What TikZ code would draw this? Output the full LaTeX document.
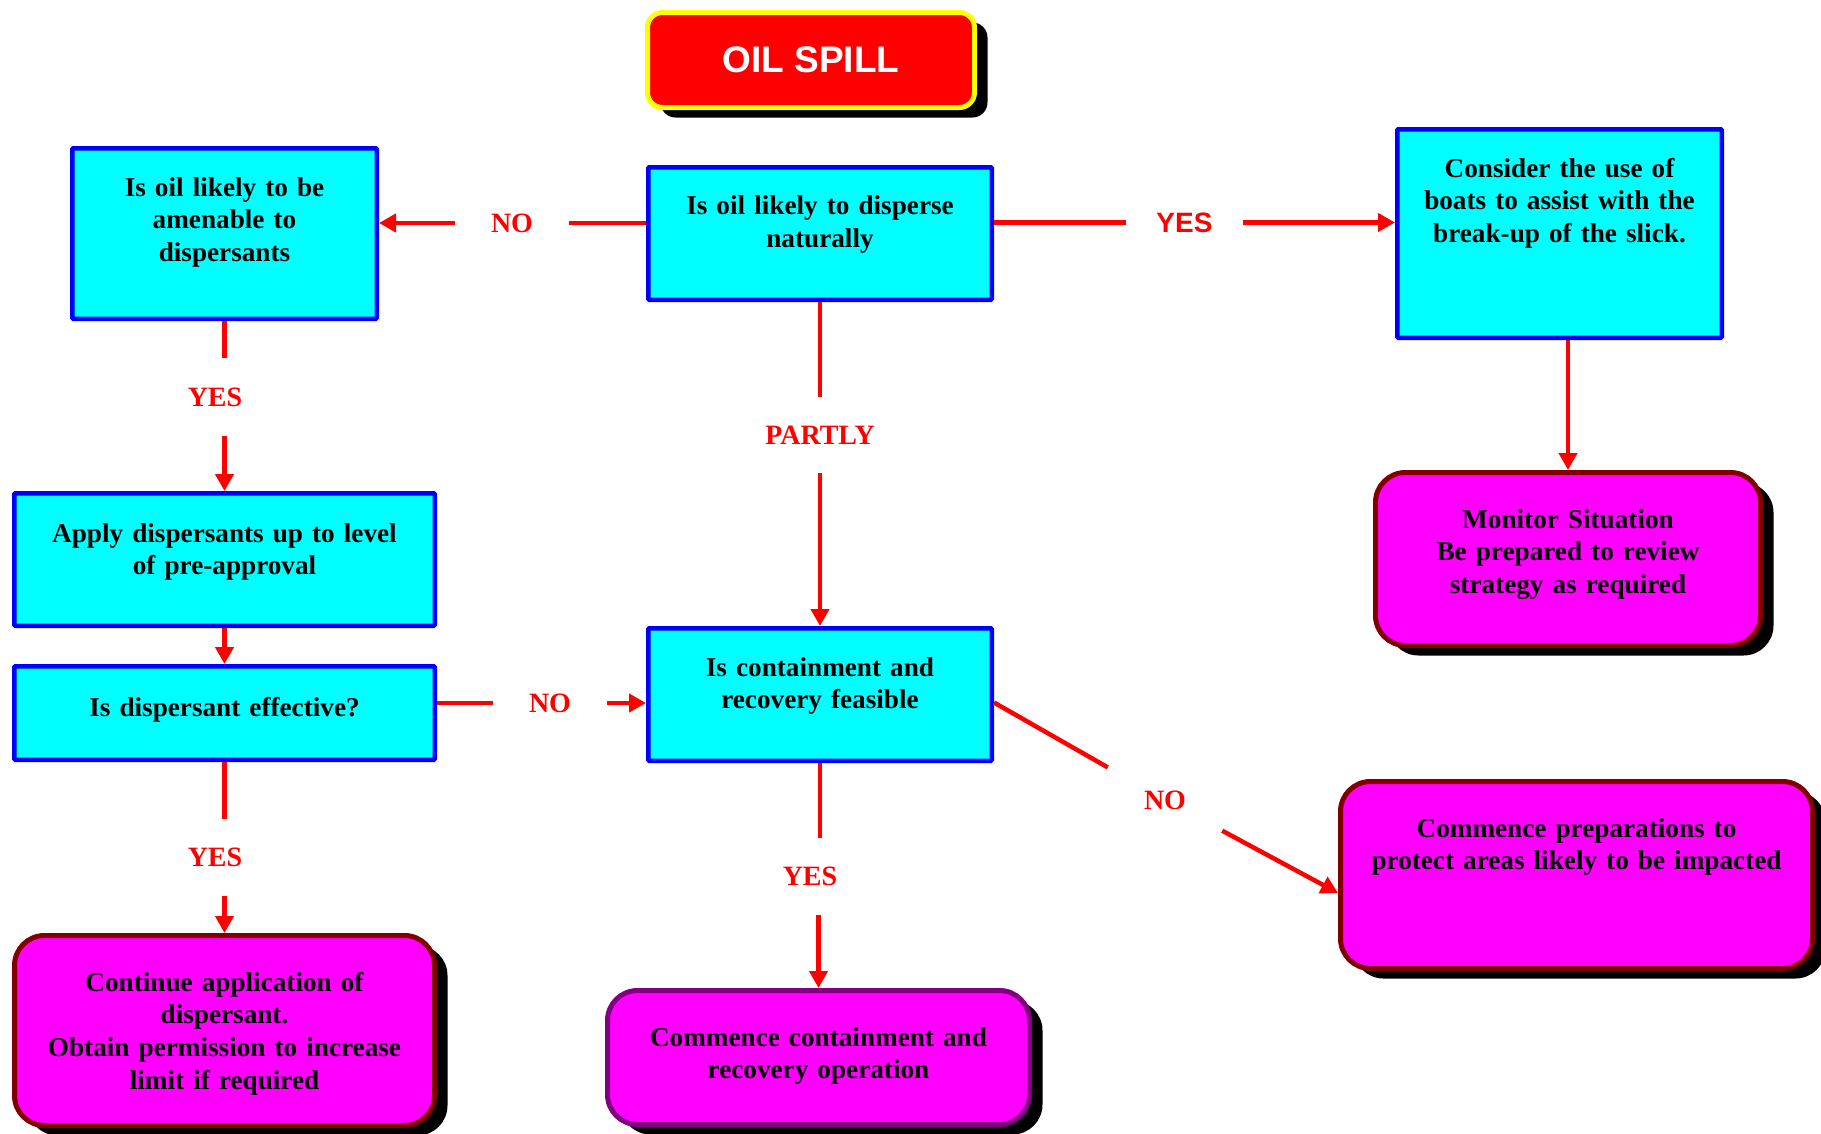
\documentclass[tikz,border=0pt]{standalone}
\usepackage{fontspec}
\setmainfont{Liberation Serif}
\newfontfamily\sansbold{Liberation Sans}
\usetikzlibrary{arrows.meta,shadows}
\definecolor{boxcyan}{RGB}{0,255,255}
\definecolor{boxmagenta}{RGB}{255,0,255}
\definecolor{boxblue}{RGB}{0,0,255}
\definecolor{boxred}{RGB}{255,0,0}
\definecolor{boxyellow}{RGB}{255,255,0}
\definecolor{maroonline}{RGB}{128,0,0}
\definecolor{purpleline}{RGB}{128,0,128}
\newcommand\flowfont{\bfseries\fontsize{27.2}{32.7}\selectfont}
\newcommand\answerfont{\bfseries\fontsize{28}{32.5}\selectfont}
\newcommand\flowsans{\sansbold\bfseries\fontsize{28}{32}\selectfont}

\begin{document}
\begin{tikzpicture}[x=1pt, y=-1pt,
    blackshadow/.style={drop shadow={shadow xshift=13pt, shadow yshift=-10pt, fill=black, opacity=1}},
    spillbox/.style={draw=boxyellow, fill=boxred, line width=5pt, rounded corners=15pt, blackshadow,
      minimum width=327pt, minimum height=95pt, text=white,
      font=\sansbold\bfseries\fontsize{37}{40}\selectfont},
    question/.style={draw=boxblue, fill=boxcyan, line width=4.5pt, rounded corners=1pt,
      align=center, inner sep=2pt, text height=20pt, font=\flowfont},
    action/.style={draw=maroonline, fill=boxmagenta, line width=5pt, rounded corners=30pt, blackshadow,
      align=center, inner sep=2pt, text height=20pt, font=\flowfont},
    answer/.style={text=boxred, font=\answerfont, inner xsep=36pt, inner ysep=29pt},
    answersans/.style={answer, font=\flowsans, inner xsep=30pt},
    link/.style={boxred, line width=4.5pt},
    arrowlink/.style={link, -{Triangle[length=17pt, width=18pt]}}]

  \useasboundingbox (0,0) rectangle (1821,1133);

  % title
  \draw (811,60) node (spill) [spillbox] {OIL SPILL};

  % questions
  \draw (224.5,233.5) node (tl) [question, minimum width=304.5pt, minimum height=170.5pt,
    text width=280pt, text depth=95pt] {Is oil likely to be\\ amenable to\\ dispersants};
  \draw (820,233.5) node (ctop) [question, minimum width=343.5pt, minimum height=132.5pt,
    text width=320pt, text depth=58pt] {Is oil likely to disperse\\ naturally};
  \draw (1559.5,233.5) node (tr) [question, minimum width=324.5pt, minimum height=208.5pt,
    text width=300pt, text depth=133pt] {Consider the use of\\ boats to assist with the\\ break-up of the slick.};
  \draw (224.5,559.5) node (apply) [question, minimum width=420.5pt, minimum height=132.5pt,
    text width=396pt, text depth=55pt] {Apply dispersants up to level\\ of pre-approval};
  \draw (224.5,713) node (eff) [question, minimum width=420.5pt, minimum height=93.5pt,
    text width=396pt, text depth=14pt] {Is dispersant effective?};
  \draw (820,694.5) node (cont) [question, minimum width=343.5pt, minimum height=132.5pt,
    text width=320pt, text depth=57pt] {Is containment and\\ recovery feasible};

  % actions
  \draw (1568,559) node (mon) [action, minimum width=385pt, minimum height=173pt,
    text width=360pt, text depth=82pt] {Monitor Situation\\ Be prepared to review\\ strategy as required};
  \draw (224.5,1030.5) node (cnt) [action, minimum width=420pt, minimum height=190pt,
    text width=396pt, text depth=99pt] {Continue application of\\ dispersant.\\ Obtain permission to increase\\ limit if required};
  \draw (818.5,1057.5) node (ccr) [action, draw=purpleline, minimum width=422pt, minimum height=134pt,
    text width=398pt, text depth=43pt] {Commence containment and\\ recovery operation};
  \draw (1576.5,875) node (prep) [action, minimum width=472pt, minimum height=187pt,
    text width=448pt, text depth=96pt] {Commence preparations to\\ protect areas likely to be impacted};

  % answers
  \draw (512,223) node (noL) [answer] {NO};
  \draw (1184.5,222.5) node (yesR) [answersans] {YES};
  \draw (215,397) node (yesL) [answer] {YES};
  \draw (820,435) node (partly) [answer] {PARTLY};
  \draw (550,703) node (noM) [answer] {NO};
  \draw (215,857.5) node (yesLB) [answer] {YES};
  \draw (810,876.5) node (yesCB) [answer] {YES};
  \draw (1165,800) node (noD) [answer] {NO};

  % connectors
  \draw[link] (ctop.west |- noL) -- (noL);
  \draw[arrowlink] (noL) -- (tl.east |- noL);
  \draw[link] (ctop.east |- yesR) -- (yesR);
  \draw[arrowlink] (yesR) -- (tr.west |- yesR);
  \draw[link] (tl.south) -- (tl.south |- yesL.north);
  \draw[arrowlink] (apply.north |- yesL.south) -- (apply.north);
  \draw[arrowlink] (apply.south) -- (eff.north);
  \draw[link] (eff.east |- noM) -- (noM);
  \draw[arrowlink] (noM) -- (cont.west |- noM);
  \draw[link] (eff.south) -- (eff.south |- yesLB.north);
  \draw[arrowlink] (cnt.north |- yesLB.south) -- (cnt.north);
  \draw[link] (ctop.south) -- (partly);
  \draw[arrowlink] (partly) -- (cont.north);
  \draw[link] (cont.south) -- (cont.south |- yesCB.north);
  \draw[arrowlink] (ccr.north |- yesCB.south) -- (ccr.north);
  \draw[arrowlink] (tr.south -| mon.north) -- (mon.north);
  \draw[link] ([yshift=-8pt]cont.east) -- (noD);
  \draw[arrowlink] (noD) -- ([yshift=-18pt]prep.west);
\end{tikzpicture}
\end{document}
